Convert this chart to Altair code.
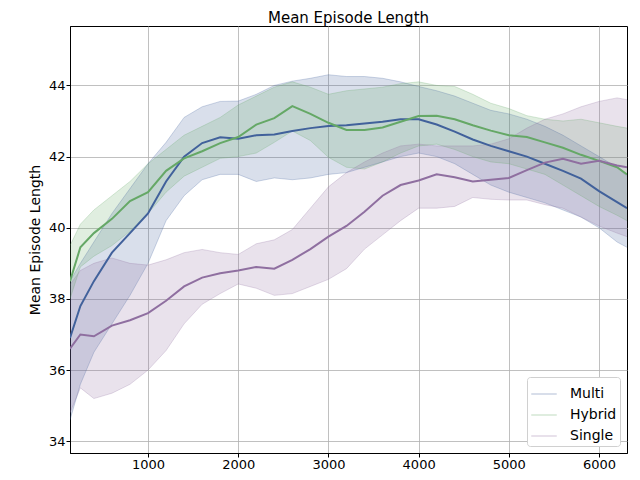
import altair as alt
import pandas as pd

# ---- data ----
steps = [135, 250, 400, 600, 800, 1000, 1200, 1400, 1600, 1800, 2000, 2200, 2400,
         2600, 2800, 3000, 3200, 3400, 3600, 3800, 4000, 4200, 4400, 4600, 4800,
         5000, 5200, 5400, 5600, 5800, 6000, 6200, 6310]

multi_mean = [36.9, 37.8, 38.5, 39.3, 39.85, 40.4, 41.3, 42.0, 42.38, 42.54, 42.5, 42.6, 42.62,
              42.72, 42.8, 42.86, 42.88, 42.93, 42.98, 43.05, 43.05, 42.9, 42.7, 42.48, 42.3,
              42.15, 42.0, 41.8, 41.6, 41.38, 41.03, 40.72, 40.55]
multi_hi = [38.5, 39.0, 39.6, 40.4, 41.1, 41.8, 42.4, 43.1, 43.4, 43.55, 43.56, 43.75, 44.0,
            44.12, 44.2, 44.3, 44.25, 44.25, 44.2, 44.1, 43.97, 43.85, 43.7, 43.5, 43.3,
            43.2, 43.05, 42.85, 42.6, 42.3, 42.0, 41.7, 41.45]
multi_lo = [34.6, 35.6, 36.5, 37.3, 38.1, 39.0, 40.2, 40.9, 41.35, 41.5, 41.5, 41.3, 41.4,
            41.35, 41.4, 41.5, 41.55, 41.7, 41.85, 42.0, 42.1, 42.0, 41.8, 41.5, 41.2,
            41.0, 40.85, 40.7, 40.5, 40.3, 40.0, 39.6, 39.45]

hybrid_mean = [38.5, 39.45, 39.85, 40.25, 40.75, 41.0, 41.6, 41.95, 42.15, 42.38, 42.55, 42.9, 43.08,
               43.42, 43.2, 42.95, 42.75, 42.75, 42.82, 42.98, 43.14, 43.15, 43.05, 42.88, 42.73,
               42.6, 42.55, 42.4, 42.25, 42.05, 41.88, 41.7, 41.5]
hybrid_hi = [39.5, 40.1, 40.5, 40.9, 41.3, 41.8, 42.2, 42.6, 42.85, 43.1, 43.45, 43.7, 43.95,
             44.1, 43.95, 43.75, 43.85, 43.9, 43.95, 44.05, 44.1, 44.0, 43.97, 43.75, 43.5,
             43.35, 43.15, 43.05, 43.0, 43.05, 42.95, 42.85, 42.8]
hybrid_lo = [38.0, 38.9, 39.2, 39.5, 39.9, 40.4, 41.0, 41.45, 41.7, 41.95, 42.0, 42.1, 42.4,
             42.72, 42.45, 41.98, 41.7, 41.65, 41.85, 42.1, 42.3, 42.35, 42.2, 42.0, 41.85,
             41.8, 41.65, 41.5, 41.2, 40.9, 40.6, 40.35, 40.2]

single_mean = [36.6, 37.0, 36.95, 37.25, 37.4, 37.6, 37.95, 38.35, 38.6, 38.72, 38.8, 38.9, 38.85,
               39.1, 39.4, 39.75, 40.05, 40.45, 40.9, 41.2, 41.33, 41.5, 41.42, 41.3, 41.35,
               41.4, 41.62, 41.83, 41.94, 41.8, 41.88, 41.75, 41.7]
single_hi = [38.4, 38.8, 39.0, 39.15, 39.0, 38.95, 39.1, 39.3, 39.39, 39.3, 39.25, 39.55, 39.66,
             39.95, 40.55, 41.15, 41.55, 41.85, 42.1, 42.3, 42.35, 42.3, 42.3, 42.3, 42.35,
             42.5, 42.8, 43.05, 43.2, 43.4, 43.55, 43.65, 43.6]
single_lo = [34.8, 35.5, 35.2, 35.35, 35.6, 36.0, 36.55, 37.3, 37.85, 38.15, 38.42, 38.3, 38.1,
             38.15, 38.35, 38.55, 38.85, 39.4, 39.8, 40.2, 40.55, 40.55, 40.6, 40.85, 40.8,
             40.78, 40.78, 40.65, 40.55, 40.3, 40.05, 39.85, 39.75]

series_names = ["Multi", "Hybrid", "Single"]
series_colors = ["#41619b", "#65a866", "#8f6fa0"]
x_ticks = [1000, 2000, 3000, 4000, 5000, 6000]
y_ticks = [34, 36, 38, 40, 42, 44]

rows = []
for name, m, lo, hi in [("Multi", multi_mean, multi_lo, multi_hi),
                        ("Hybrid", hybrid_mean, hybrid_lo, hybrid_hi),
                        ("Single", single_mean, single_lo, single_hi)]:
    for s, a, b, c in zip(steps, m, lo, hi):
        rows.append({"step": s, "series": name, "mean": a, "lo": b, "hi": c})
df = pd.DataFrame(rows)

xs = alt.Scale(domain=[135, 6310], nice=False, zero=False)
ys = alt.Scale(domain=[33.67, 45.67], nice=False, zero=False)
cs = alt.Scale(domain=series_names, range=series_colors)

x_enc = alt.X("step:Q", scale=xs,
              axis=alt.Axis(title=None, values=x_ticks, format="d", grid=True))
y_axis = alt.Axis(title="Mean Episode Length", values=y_ticks, grid=True)

base = alt.Chart(df)

bands = base.mark_area(opacity=0.2, clip=True).encode(
    x=x_enc,
    y=alt.Y("lo:Q", scale=ys, axis=y_axis),
    y2="hi:Q",
    color=alt.Color("series:N", scale=cs),
)
edge_lo = base.mark_line(opacity=0.25, strokeWidth=1, clip=True).encode(
    x=x_enc, y=alt.Y("lo:Q", scale=ys, axis=y_axis),
    color=alt.Color("series:N", scale=cs),
)
edge_hi = base.mark_line(opacity=0.25, strokeWidth=1, clip=True).encode(
    x=x_enc, y=alt.Y("hi:Q", scale=ys, axis=y_axis),
    color=alt.Color("series:N", scale=cs),
)

lines = base.mark_line(strokeWidth=2, clip=True).encode(
    x=x_enc,
    y=alt.Y("mean:Q", scale=ys, axis=y_axis),
    color=alt.Color("series:N", scale=cs,
                    legend=alt.Legend(title=None, orient="bottom-right", offset=7,
                                      symbolType="stroke", symbolSize=650, symbolStrokeWidth=2,
                                      symbolOpacity=0.9,
                                      labelFontSize=14, labelFont="DejaVu Sans",
                                      padding=3, rowPadding=0, labelOffset=12,
                                      fillColor="white", strokeColor="#d0d0d0",
                                      cornerRadius=3)),
)

chart = alt.layer(bands, edge_lo, edge_hi, lines).properties(
    width=557, height=427,
    autosize=alt.AutoSizeParams(type="none"),
    padding={"left": 62, "top": 18, "right": 1, "bottom": 19},
    title=alt.Title("Mean Episode Length", fontSize=15, font="DejaVu Sans",
                    fontWeight="normal", offset=0.5, color="black"),
).configure_view(
    stroke="black", strokeWidth=1
).configure_axis(
    labelFont="DejaVu Sans", labelFontSize=13, labelColor="black",
    titleFont="DejaVu Sans", titleFontSize=14, titleFontWeight="normal", titleColor="black",
    tickColor="black", tickSize=4, labelPadding=1,
    domainColor="black", gridColor="#b0b0b0", gridWidth=0.8, titlePadding=6,
)

chart.save("out.html", embed_options={"renderer": "svg", "actions": False})
